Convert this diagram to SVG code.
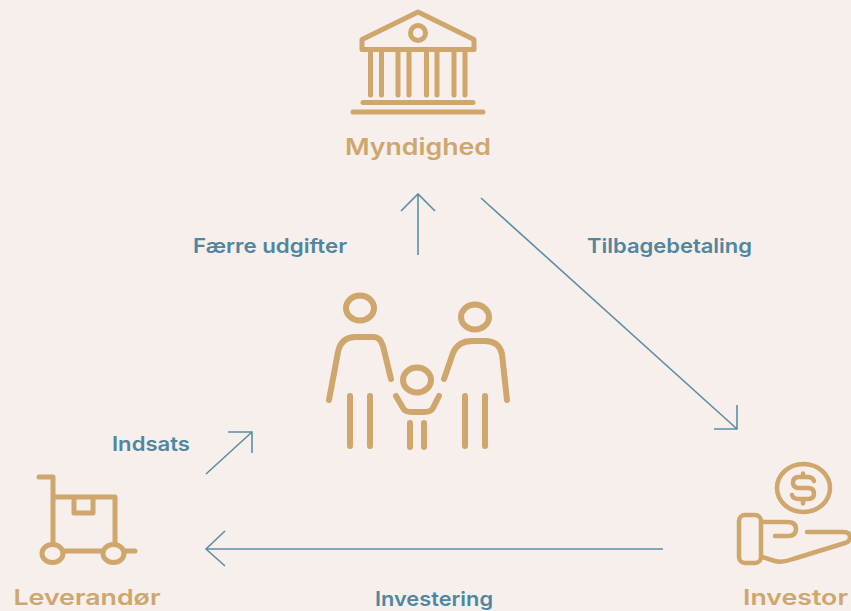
<svg xmlns="http://www.w3.org/2000/svg" width="851" height="611" viewBox="0 0 851 611">
<style>
.i{fill:none;stroke:#cfa66c;stroke-linecap:round;stroke-linejoin:round}
.t{font-family:Inter,"Liberation Sans",sans-serif;font-weight:600;text-anchor:middle}
.n{fill:#cfa66c;font-size:23px}
.b{font-size:22px}
.l{fill:#4f86a0;font-size:20px}
.c{fill:none;stroke:#5d8fa3;stroke-width:1.6}
</style>
<rect width="851" height="611" fill="#f6efec"/>
<g id="connectors" class="c">
<path d="M418 255V194M401 211L418 194L435 211"/>
<path d="M481 198L737 429M737 405V429H714"/>
<path d="M206 474L252 432M228 432H252V453"/>
<path d="M663 549H206M225 531L206 549L225 566"/>
</g>
<g id="label-faerre"><text class="t l" x="270" y="253" textLength="154" lengthAdjust="spacingAndGlyphs">Færre udgifter</text></g>
<g id="label-tilbage"><text class="t l" x="669.500" y="253" textLength="165" lengthAdjust="spacingAndGlyphs">Tilbagebetaling</text></g>
<g id="label-indsats"><text class="t l" x="151" y="451" textLength="78" lengthAdjust="spacingAndGlyphs">Indsats</text></g>
<g id="label-investering"><text class="t l" x="434" y="606" textLength="118" lengthAdjust="spacingAndGlyphs">Investering</text></g>
<g id="myndighed">
<g class="i" stroke-width="5">
<path d="M362 39.500L418 12L474 39.500V49.500H362Z"/>
<path d="M370.500 50V95M381.500 50V95M398 50V95M409 50V95M426.500 50V95M437 50V95M454 50V95M465 50V95"/>
<path d="M363 102.500H473M353 112H483"/>
<circle cx="418" cy="33" r="7.500"/>
</g>
<text class="t n" x="418" y="155" textLength="146" lengthAdjust="spacingAndGlyphs">Myndighed</text>
</g>
<g id="familie" class="i" stroke-width="6">
<ellipse cx="360" cy="308" rx="14" ry="12.500"/>
<ellipse cx="475" cy="317" rx="14" ry="12.500"/>
<ellipse cx="417" cy="380" rx="14" ry="12.500"/>
<path d="M329 400L338 352Q341 337 356 337H374Q380 337 383 346L391 379"/>
<path d="M444 379L453 353Q458 341 472 341H485Q499 341 502 354L507 400"/>
<path d="M350 396V446M370 396V446M465 396V446M485 396V446"/>
<path d="M396 396L403 408Q405 412 412 412H424Q431 412 433 408L439 396"/>
<path d="M410 423V447M424 423V447"/>
</g>
<g id="leverandor">
<g class="i" stroke-width="5">
<path d="M39 477H53V543M55 497H115V543M74 498V513H93V498"/>
<ellipse cx="52.500" cy="553.500" rx="10.500" ry="9"/><ellipse cx="113.500" cy="553.500" rx="10.500" ry="9"/>
<path d="M63 551H103M124 551H135"/>
</g>
<text class="t n b" x="87" y="605" textLength="147" lengthAdjust="spacingAndGlyphs">Leverandør</text>
</g>
<g id="investor">
<g class="i" stroke-width="4.500">
<ellipse cx="803.500" cy="488" rx="26.500" ry="24"/>
<path d="M814 481Q813 477 807 477H799Q793 477 793 482.500Q793 488 799 488H808Q814 488 814 493.500Q814 499 808 499H799Q793 499 792 495M803 473.500V477M803 499V503.500"/>
<rect x="739" y="515" width="22" height="48" rx="6"/>
<path d="M761 522H787Q796 522 796 529Q796 536 788 536H775M807 532H843Q850 532 850 537Q850 542 845 543L793 559Q782 563 775 561L762 557"/>
</g>
<text class="t n b" x="795.500" y="605" textLength="105" lengthAdjust="spacingAndGlyphs">Investor</text>
</g>
</svg>
